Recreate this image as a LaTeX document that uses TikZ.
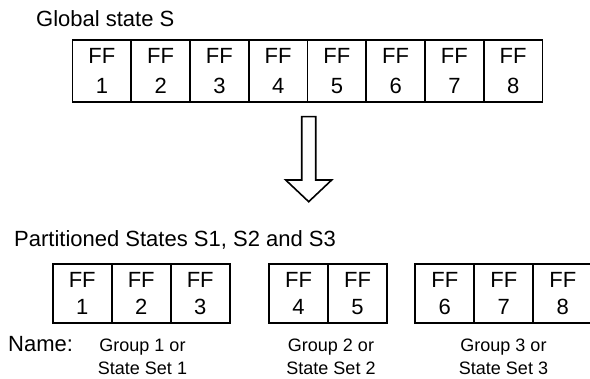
\documentclass[tikz,border=0pt]{standalone}
\usepackage{fontspec}
\setmainfont{Liberation Sans}
\begin{document}
\begin{tikzpicture}[x=1pt,y=-1pt,
  topcell/.style={draw, line width=1.8pt, minimum width=58.75pt, minimum height=61.7pt, inner sep=0pt, align=center, font=\fontsize{22}{30}\selectfont},
  botcell/.style={draw, line width=1.8pt, minimum width=59pt, minimum height=59pt, inner sep=0pt, align=center, font=\fontsize{22}{26.5}\selectfont},
  title/.style={anchor=base west, inner sep=0pt, font=\fontsize{22}{26}\selectfont},
  grp/.style={align=center, inner sep=0pt, font=\fontsize{18}{23.3}\selectfont},
  blockarrow/.style={draw, line width=1.6pt, line join=miter}]
\useasboundingbox (0,0) rectangle (590,379);
% top row
\foreach \i in {1,...,8}
  \node[topcell] (t\i) at ({101.875+58.75*(\i-1)},70.85) {FF\\\i};
% labels
\node[title] (gs) at (36,26.7) {Global state S};
\node[title] (ps) at (14,246.7) {Partitioned States S1, S2 and S3};
\node[title] (nm) at (8,351.7) {Name:};
% block arrow
\coordinate (ar) at (308.7,116.7);
\draw[blockarrow] (ar) ++(-7,0) -- ++(0,63.3) -- ++(-16,0) -- ++(23,21.7) -- ++(23,-21.7) -- ++(-16,0) -- ++(0,-63.3) -- cycle;
% bottom groups
\node[botcell] (b1) at (82.2,293.5) {FF\\1};
\node[botcell] (b2) at (141.2,293.5) {FF\\2};
\node[botcell] (b3) at (200.2,293.5) {FF\\3};
\node[botcell] (b4) at (298.5,293.5) {FF\\4};
\node[botcell] (b5) at (357.5,293.5) {FF\\5};
\node[botcell] (b6) at (444.8,293.5) {FF\\6};
\node[botcell] (b7) at (503.8,293.5) {FF\\7};
\node[botcell] (b8) at (562.8,293.5) {FF\\8};
% group names
\node[grp] (g1) at (142.5,357) {Group 1 or\\State Set 1};
\node[grp] (g2) at (331,357) {Group 2 or\\State Set 2};
\node[grp] (g3) at (503.5,357) {Group 3 or\\State Set 3};
\end{tikzpicture}
\end{document}
